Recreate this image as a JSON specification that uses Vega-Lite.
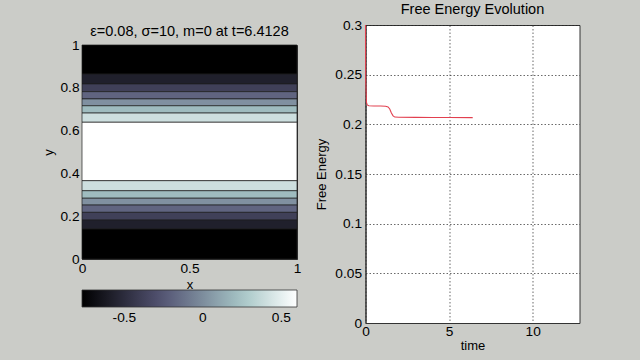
{
  "$schema": "https://vega.github.io/schema/vega-lite/v6.json",
  "background": "#cbccc8",
  "padding": {"left": 42, "top": 1, "right": 60, "bottom": 8},
  "config": {
    "font": "Liberation Sans",
    "title": {"fontSize": 14.5, "fontWeight": "normal", "color": "#000000", "offset": 0},
    "axis": {
      "labelFontSize": 13.7, "labelColor": "#000000", "titleFontSize": 13, "titleFontWeight": "normal",
      "titleColor": "#000000", "domainColor": "#333333", "tickColor": "#333333", "grid": false,
      "labelFlush": false, "ticks": false, "labelPadding": 4, "titlePadding": 4,
      "gridColor": "#222222", "gridDash": [1.5, 2], "gridWidth": 0.8, "gridOpacity": 0.85
    }
  },
  "datasets": {
    "bands": [
      {"x0": 0, "x1": 1, "y0": 0.864, "y1": 1.0, "u": -0.77},
      {"x0": 0, "x1": 1, "y0": 0.818, "y1": 0.864, "u": -0.574},
      {"x0": 0, "x1": 1, "y0": 0.782, "y1": 0.818, "u": -0.379},
      {"x0": 0, "x1": 1, "y0": 0.748, "y1": 0.782, "u": -0.183},
      {"x0": 0, "x1": 1, "y0": 0.716, "y1": 0.748, "u": 0.013},
      {"x0": 0, "x1": 1, "y0": 0.682, "y1": 0.716, "u": 0.209},
      {"x0": 0, "x1": 1, "y0": 0.639, "y1": 0.682, "u": 0.404},
      {"x0": 0, "x1": 1, "y0": 0.366, "y1": 0.639, "u": 0.6},
      {"x0": 0, "x1": 1, "y0": 0.319, "y1": 0.366, "u": 0.404},
      {"x0": 0, "x1": 1, "y0": 0.284, "y1": 0.319, "u": 0.209},
      {"x0": 0, "x1": 1, "y0": 0.252, "y1": 0.284, "u": 0.013},
      {"x0": 0, "x1": 1, "y0": 0.218, "y1": 0.252, "u": -0.183},
      {"x0": 0, "x1": 1, "y0": 0.182, "y1": 0.218, "u": -0.379},
      {"x0": 0, "x1": 1, "y0": 0.140, "y1": 0.182, "u": -0.574},
      {"x0": 0, "x1": 1, "y0": 0.0, "y1": 0.140, "u": -0.77}
    ],
    "energy": [
      {"t": 0.0, "F": 0.3},
      {"t": 0.005, "F": 0.262},
      {"t": 0.01, "F": 0.245},
      {"t": 0.03, "F": 0.235},
      {"t": 0.06, "F": 0.222},
      {"t": 0.1, "F": 0.2195},
      {"t": 0.2, "F": 0.2187},
      {"t": 0.5, "F": 0.2185},
      {"t": 0.9, "F": 0.2184},
      {"t": 1.2, "F": 0.2182},
      {"t": 1.35, "F": 0.2175},
      {"t": 1.45, "F": 0.2155},
      {"t": 1.55, "F": 0.2115},
      {"t": 1.65, "F": 0.2085},
      {"t": 1.75, "F": 0.2073},
      {"t": 2.0, "F": 0.2071},
      {"t": 3.0, "F": 0.2070},
      {"t": 4.0, "F": 0.2069},
      {"t": 5.0, "F": 0.2069},
      {"t": 6.4128, "F": 0.2068}
    ]
  },
  "spacing": 12.5,
  "resolve": {"legend": {"color": "independent"}},
  "hconcat": [
    {
      "bounds": "flush",
      "spacing": 0,
      "resolve": {"legend": {"color": "independent"}},
      "vconcat": [
        {
          "width": 215,
          "height": 20,
          "data": {"values": [{"a": 1}]},
          "mark": {"type": "point", "opacity": 0},
          "encoding": {},
          "view": {"stroke": null, "fill": "#cbccc8"}
        },
        {
          "width": 215,
          "height": 214,
          "title": {"text": "ε=0.08, σ=10, m=0 at t=6.4128", "offset": -1},
          "data": {"name": "bands"},
          "mark": {"type": "rect", "stroke": "#1c1c1c", "strokeWidth": 0.7},
          "encoding": {
            "x": {"field": "x0", "type": "quantitative", "scale": {"domain": [0, 1], "nice": false},
                  "axis": {"values": [0, 0.5, 1], "format": ".1~f", "title": "x", "labelPadding": 2, "titlePadding": 4}},
            "x2": {"field": "x1"},
            "y": {"field": "y0", "type": "quantitative", "scale": {"domain": [0, 1], "nice": false},
                  "axis": {"values": [0, 0.2, 0.4, 0.6, 0.8, 1], "format": ".1~f", "title": "y", "labelPadding": 3}},
            "y2": {"field": "y1"},
            "color": {
              "field": "u", "type": "quantitative",
              "scale": {"domain": [-0.77, -0.2563, 0.2575, 0.6], "range": ["#000000", "#545474", "#a7c7c7", "#ffffff"], "interpolate": "rgb"},
              "legend": {
                "orient": "none", "legendX": 0, "legendY": 245, "direction": "horizontal",
                "gradientLength": 215, "gradientThickness": 17, "title": null,
                "values": [-0.5, 0, 0.5],
                "labelExpr": "datum.value < 0 ? '-' + format(-datum.value, '.1~f') : format(datum.value, '.1~f')",
                "labelFontSize": 13.7, "labelColor": "#000000",
                "labelOffset": 4, "gradientStrokeColor": "#333333", "gradientStrokeWidth": 0.8, "padding": 0
              }
            }
          },
          "view": {"stroke": "#333333"}
        }
      ]
    },
    {
      "width": 214,
      "height": 298,
      "title": {"text": "Free Energy Evolution", "offset": 1},
      "data": {"name": "energy"},
      "mark": {"type": "line", "color": "#e2404f", "strokeWidth": 1.1, "clip": false},
      "encoding": {
        "x": {"field": "t", "type": "quantitative", "scale": {"domain": [0, 12.8], "nice": false},
              "axis": {"values": [0, 5, 10], "title": "time", "grid": true, "labelPadding": 1.5, "titlePadding": 1}},
        "y": {"field": "F", "type": "quantitative", "scale": {"domain": [0, 0.3], "nice": false},
              "axis": {"values": [0, 0.05, 0.1, 0.15, 0.2, 0.25, 0.3], "format": ".2~f", "title": "Free Energy", "grid": true, "titlePadding": 6}}
      },
      "view": {"fill": "#ffffff", "stroke": "#333333"}
    }
  ]
}
